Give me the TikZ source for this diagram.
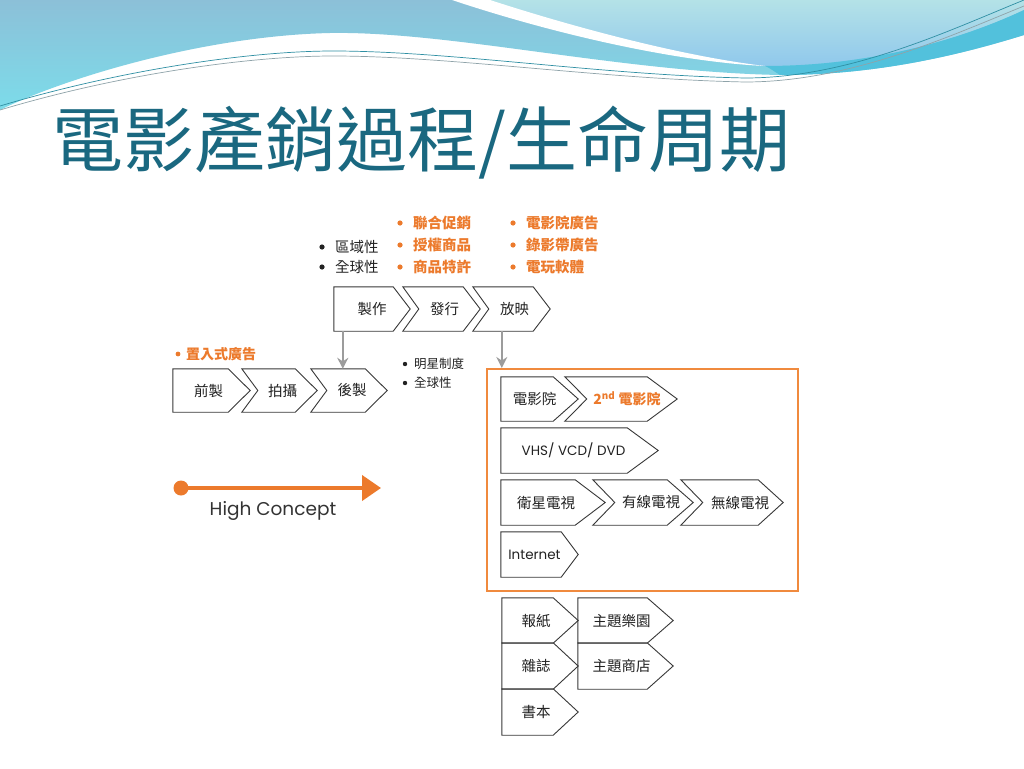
\documentclass[tikz,border=0pt]{standalone}
\usepackage{fontspec}
\setmainfont{Noto Sans CJK TC}
\newfontfamily\cjk{Noto Sans CJK TC}
\newfontfamily\lat{Poppins}
\usetikzlibrary{arrows.meta,calc}
\definecolor{orng}{HTML}{EC7A2C}
\definecolor{frameor}{HTML}{F08A3E}
\definecolor{ttl}{HTML}{1A6880}
\definecolor{txt}{HTML}{222222}
\definecolor{txtb}{HTML}{333333}
\definecolor{arrg}{HTML}{9C9C9C}
\definecolor{wvA}{HTML}{8CC0D8}
\definecolor{wvB}{HTML}{7CDCEA}
\definecolor{wvC}{HTML}{B4E2E7}
\definecolor{wvD}{HTML}{90C8EC}
\definecolor{wvE}{HTML}{52C1DC}
\definecolor{lnA}{HTML}{2F8FA3}
\definecolor{lnB}{HTML}{8FA3A9}
\newcommand{\Chev}[9]{%
  \pgfmathsetmacro\cw{#3-#2}\pgfmathsetmacro\ch{#5-#4}%
  \pgfmathsetmacro\cx{(#2+#3)/2}\pgfmathsetmacro\cy{(#4+#5)/2}%
  \node[cbody,minimum width=\cw pt,minimum height=\ch pt,#8] (#1) at (\cx,\cy) {#9};
  \draw[cline] (#1.north west) -- ([xshift=-#7pt]#1.north east) -- (#1.east) -- ([xshift=-#7pt]#1.south east) -- (#1.south west) -- ([xshift=#6pt]#1.west) -- cycle;
}
\tikzset{
  cbody/.style={inner sep=0pt, text=txt, font=\cjk\fontsize{14.5}{17}\selectfont},
  latbody/.style={font=\lat\fontsize{13.5}{16}\selectfont},
  cline/.style={draw=black!78, line width=0.9pt, line join=miter},
  lbl/.style={anchor=west, inner sep=0pt, text=txt, font=\cjk\fontsize{14.5}{17}\selectfont},
  slbl/.style={anchor=west, inner sep=0pt, text=txt, font=\cjk\fontsize{12.5}{15}\selectfont},
  olbl/.style={anchor=west, inner sep=0pt, text=orng, font=\cjk\bfseries\fontsize{14.5}{17}\selectfont},
  garrow/.style={draw=arrg, line width=2.6pt, -{Stealth[length=11pt,width=11pt]}},
  thinl/.style={line width=0.7pt},
}
\begin{document}
\begin{tikzpicture}[x=1pt,y=-1pt]
\useasboundingbox (0,0) rectangle (1024,768);
\fill[white] (0,0) rectangle (1024,768);
% ---- waves ----
\shade[top color=wvA, bottom color=wvB]
  (0,0) -- (1024,0) -- (1024,35) .. controls (950,58) and (870,75) .. (780,75)
  .. controls (620,72) and (450,31) .. (330,33) .. controls (200,36) and (60,80) .. (0,110) -- cycle;
\shade[top color=wvC, bottom color=wvD]
  (480,0) .. controls (600,40) and (690,63) .. (765,66) .. controls (870,66) and (960,40) .. (1024,10) -- (1024,0) -- cycle;
\fill[wvE]
  (765,66) .. controls (870,66) and (960,40) .. (1024,10) -- (1024,35) .. controls (950,58) and (870,75) .. (780,75) .. controls (775,72) and (770,68) .. (765,66) -- cycle;
\fill[white]
  (452,0) .. controls (560,36) and (680,62) .. (765,66) .. controls (680,56) and (570,26) .. (490,0) -- cycle;
\draw[thinl, draw=lnA] (0,106) .. controls (120,70) and (250,51) .. (333,51) .. controls (450,51) and (600,75) .. (745,78) .. controls (850,78) and (950,30) .. (1024,0);
\draw[thinl, draw=lnB] (0,110) .. controls (120,74) and (250,56) .. (333,56) .. controls (450,56) and (600,79) .. (745,82) .. controls (850,82) and (950,36) .. (1024,6);
% ---- title ----
\node[anchor=west, inner sep=0pt, text=ttl, font=\cjk\fontsize{71}{75}\selectfont] (title) at (52,143) {電影產銷過程/生命周期};
% ---- top labels ----
\node[lbl] (l1) at (335,247) {區域性};
\node[lbl] (l2) at (335,267) {全球性};
\node[olbl] (o1) at (413,223) {聯合促銷};
\node[olbl] (o2) at (413,245) {授權商品};
\node[olbl] (o3) at (413,267) {商品特許};
\node[olbl] (o4) at (526,223) {電影院廣告};
\node[olbl] (o5) at (526,245) {錄影帶廣告};
\node[olbl] (o6) at (526,267) {電玩軟體};
\foreach \n in {l1,l2} \fill[txt] ([xshift=-13pt]\n.west) circle (2.6pt);
\foreach \n in {o1,o2,o3,o4,o5,o6} \fill[orng] ([xshift=-13pt]\n.west) circle (2.6pt);
\node[olbl, font=\cjk\bfseries\fontsize{14}{17}\selectfont] (o7) at (186,354) {置入式廣告};
\fill[orng] ([xshift=-8pt]o7.west) circle (2.4pt);
\node[slbl] (s1) at (414,364) {明星制度};
\node[slbl] (s2) at (414,383) {全球性};
\foreach \n in {s1,s2} \fill[txt] ([xshift=-9pt]\n.west) circle (2.2pt);
% ---- top chevrons ----
\Chev{zz}{334}{410}{287}{331}{0}{17}{}{製作}
\Chev{fx}{403}{480}{287}{331}{16}{17}{}{\hspace*{6pt}發行}
\Chev{fy}{473}{550}{287}{331}{16}{17}{}{\hspace*{6pt}放映}
% ---- second row ----
\Chev{qz}{173}{250}{369}{412}{0}{22}{}{前製\hspace*{6pt}}
\Chev{ps}{242}{317}{369}{412}{16}{22}{}{\hspace*{6pt}拍攝}
\Chev{hz}{311}{387}{369}{412}{16}{22}{}{\hspace*{6pt}後製}
% ---- frame ----
\node[draw=frameor, line width=2pt, minimum width=311pt, minimum height=222pt, inner sep=0pt] (frame) at (642.5,480) {};
\Chev{dyy}{501}{578}{377}{421}{0}{25}{}{電影院\hspace*{10pt}}
\Chev{edy}{565}{677}{377}{421}{22}{30}{text=orng, font=\cjk\bfseries\fontsize{14}{17}\selectfont}{\hspace*{12pt}2\textsuperscript{nd} 電影院}
\Chev{vhs}{501}{658}{428}{473}{0}{31}{latbody}{VHS/ VCD/ DVD\hspace*{12pt}}
\Chev{wx}{501}{605}{480}{525}{0}{30}{}{衛星電視\hspace*{14pt}}
\Chev{yx}{593}{693}{480}{525}{22}{26}{}{\hspace*{16pt}有線電視}
\Chev{wux}{681}{783}{480}{525}{22}{25}{}{\hspace*{16pt}無線電視}
\Chev{inet}{501}{578}{532}{577}{0}{17}{latbody}{Internet\hspace*{10pt}}
% ---- bottom ----
\Chev{bz}{502}{578}{598}{643}{0}{25}{}{報紙\hspace*{8pt}}
\Chev{zzh}{502}{578}{643}{689}{0}{25}{}{雜誌\hspace*{8pt}}
\Chev{sb}{502}{578}{689}{735}{0}{25}{}{書本\hspace*{8pt}}
\Chev{ly}{578}{673}{598}{643}{0}{26}{}{主題樂園\hspace*{8pt}}
\Chev{sd}{578}{673}{643}{689}{0}{26}{}{主題商店\hspace*{8pt}}
% ---- arrows ----
\draw[garrow] ([xshift=9pt]zz.south west) -- ([xshift=9pt]zz.south west |- hz.north);
\draw[garrow] ([xshift=29pt]fy.south west) -- ([xshift=29pt]fy.south west |- frame.north);
% ---- high concept ----
\coordinate (hcs) at (181,488);
\coordinate (hce) at (381,488);
\fill[orng] (hcs) circle (7.5pt);
\draw[orng, line width=4pt, -{Triangle[length=19pt,width=25pt]}] (hcs) -- (hce);
\node[inner sep=0pt, text=txtb, font=\lat\fontsize{18.5}{21}\selectfont] (hc) at (273,511) {High Concept};
\end{tikzpicture}
\end{document}
